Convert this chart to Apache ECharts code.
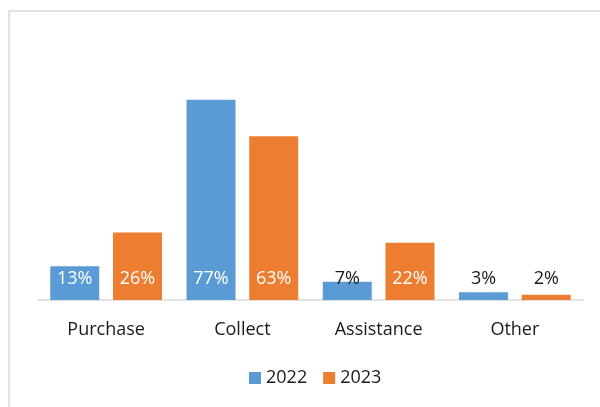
<!DOCTYPE html>
<html>
<head>
<meta charset="utf-8">
<style>
  html, body { margin: 0; padding: 0; background: #fff; }
  #chart { width: 600px; height: 407px; }
</style>
<script src="https://cdn.jsdelivr.net/npm/echarts@6/dist/echarts.min.js"></script>
</head>
<body>
<div id="chart"></div>
<script>
// Share of responses by purpose, 2022 vs 2023 (percent)
var categories = ['Purchase', 'Collect', 'Assistance', 'Other'];
var values2022 = [13, 77, 7, 3];
var values2023 = [26, 63, 22, 2];
var seriesNames = ['2022', '2023'];

var FONT = '"Open Sans", "Noto Sans", sans-serif';

// Short bars can't hold a white label, so their label is drawn dark
function toItems(values) {
  return values.map(function (v) {
    return { value: v, label: { color: v < 10 ? '#1a1a1a' : '#ffffff' } };
  });
}

function barSeries(name, values, color) {
  return {
    name: name,
    type: 'bar',
    data: toItems(values),
    barWidth: 49,
    barGap: '28%',
    itemStyle: { color: color },
    label: {
      show: true,
      position: 'insideBottom',
      distance: 12,
      fontFamily: FONT,
      fontSize: 18,
      formatter: '{c}%'
    }
  };
}

var chart = echarts.init(document.getElementById('chart'), null, { renderer: 'canvas' });
chart.setOption({
  animation: false,
  backgroundColor: '#ffffff',
  textStyle: { fontFamily: FONT },
  graphic: [{
    type: 'rect',
    shape: { x: 9, y: 11, width: 640, height: 440 },
    style: { fill: 'none', stroke: '#d9d9d9', lineWidth: 1.5 },
    silent: true
  }],
  grid: { left: 38, right: 17, top: 92, bottom: 107 },
  legend: {
    data: seriesNames,
    left: 244,
    top: 364,
    itemWidth: 12,
    itemHeight: 12,
    itemGap: 16,
    icon: 'rect',
    textStyle: { fontFamily: FONT, fontSize: 18, color: '#1a1a1a' }
  },
  xAxis: {
    type: 'category',
    data: categories,
    axisLine: { lineStyle: { color: '#d9d9d9', width: 1.5 } },
    axisTick: { show: false },
    axisLabel: { fontFamily: FONT, fontSize: 18, color: '#1a1a1a', margin: 21 }
  },
  yAxis: {
    type: 'value',
    min: 0,
    max: 80,
    show: false,
    splitLine: { show: false }
  },
  series: [
    barSeries(seriesNames[0], values2022, '#5b9bd5'),
    barSeries(seriesNames[1], values2023, '#ed7d31')
  ]
});
</script>
</body>
</html>
